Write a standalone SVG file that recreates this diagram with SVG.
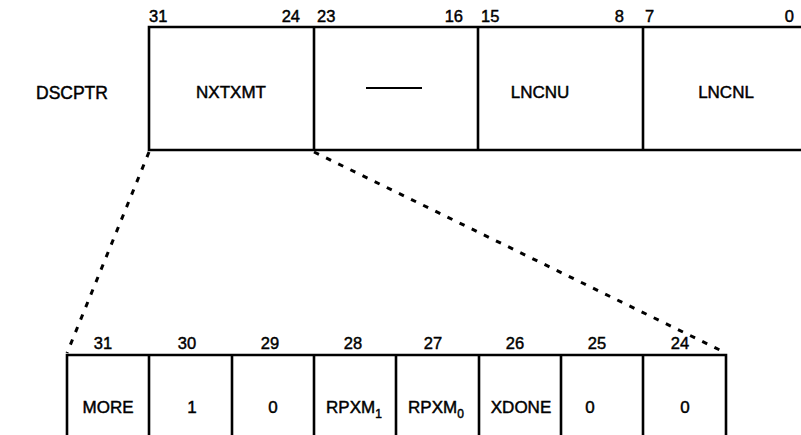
<svg xmlns="http://www.w3.org/2000/svg" width="801" height="435" viewBox="0 0 801 435">
<style>
text{font-family:"Liberation Sans",Arial,sans-serif;fill:#000;stroke:#000;stroke-width:0.45px;}
.lbl{font-size:17px;text-anchor:middle;}
.bit{font-size:16.5px;}
.box{fill:none;stroke:#000;stroke-width:2.6;}
.div{stroke:#000;stroke-width:2.6;}
.dash{stroke:#000;stroke-width:3;stroke-dasharray:5.5 8;fill:none;}
.sub{font-size:12px;}
</style>
<rect width="801" height="435" fill="#fff"/>
<text x="36" y="99" style="font-size:17.5px">DSCPTR</text>
<g id="dscptr">
<path class="box" d="M806 27 H149 V150 H806"/>
<line class="div" x1="314" y1="27" x2="314" y2="150"/>
<line class="div" x1="478" y1="27" x2="478" y2="150"/>
<line class="div" x1="643" y1="27" x2="643" y2="150"/>
<text class="bit" x="149" y="22">31</text>
<text class="bit" x="300" y="22" text-anchor="end">24</text>
<text class="bit" x="317" y="22">23</text>
<text class="bit" x="463" y="22" text-anchor="end">16</text>
<text class="bit" x="481" y="22">15</text>
<text class="bit" x="624" y="22" text-anchor="end">8</text>
<text class="bit" x="645" y="22">7</text>
<text class="bit" x="794" y="22" text-anchor="end">0</text>
</g>
<g id="nxtxmt"><text class="lbl" x="231" y="98">NXTXMT</text></g>
<g id="reserved"><line x1="366" y1="88" x2="422" y2="88" stroke="#000" stroke-width="2.2"/></g>
<g id="lncnu"><text class="lbl" x="540" y="98">LNCNU</text></g>
<g id="lncnl"><text class="lbl" x="726" y="98">LNCNL</text></g>
<g id="connectors">
<line class="dash" x1="149" y1="152" x2="67" y2="353"/>
<line class="dash" x1="314" y1="152" x2="726" y2="353"/>
</g>
<g id="nxtxmt-detail">
<path class="box" d="M67 440 V355 H726 V440"/>
<line class="div" x1="149" y1="355" x2="149" y2="440"/>
<line class="div" x1="232" y1="355" x2="232" y2="440"/>
<line class="div" x1="314" y1="355" x2="314" y2="440"/>
<line class="div" x1="396" y1="355" x2="396" y2="440"/>
<line class="div" x1="479" y1="355" x2="479" y2="440"/>
<line class="div" x1="561" y1="355" x2="561" y2="440"/>
<line class="div" x1="643" y1="355" x2="643" y2="440"/>
<text class="lbl bit" x="103" y="349">31</text>
<text class="lbl bit" x="187" y="349">30</text>
<text class="lbl bit" x="270" y="349">29</text>
<text class="lbl bit" x="353" y="349">28</text>
<text class="lbl bit" x="433" y="349">27</text>
<text class="lbl bit" x="515" y="349">26</text>
<text class="lbl bit" x="597" y="349">25</text>
<text class="lbl bit" x="680" y="349">24</text>
<text class="lbl" x="108" y="413">MORE</text>
<text class="lbl" x="192" y="413">1</text>
<text class="lbl" x="273" y="413">0</text>
<text class="lbl" x="354" y="413">RPXM<tspan class="sub" dy="5">1</tspan></text>
<text class="lbl" x="436" y="413">RPXM<tspan class="sub" dy="5">0</tspan></text>
<text class="lbl" x="521" y="413">XDONE</text>
<text class="lbl" x="590" y="413">0</text>
<text class="lbl" x="685" y="413">0</text>
</g>
</svg>
